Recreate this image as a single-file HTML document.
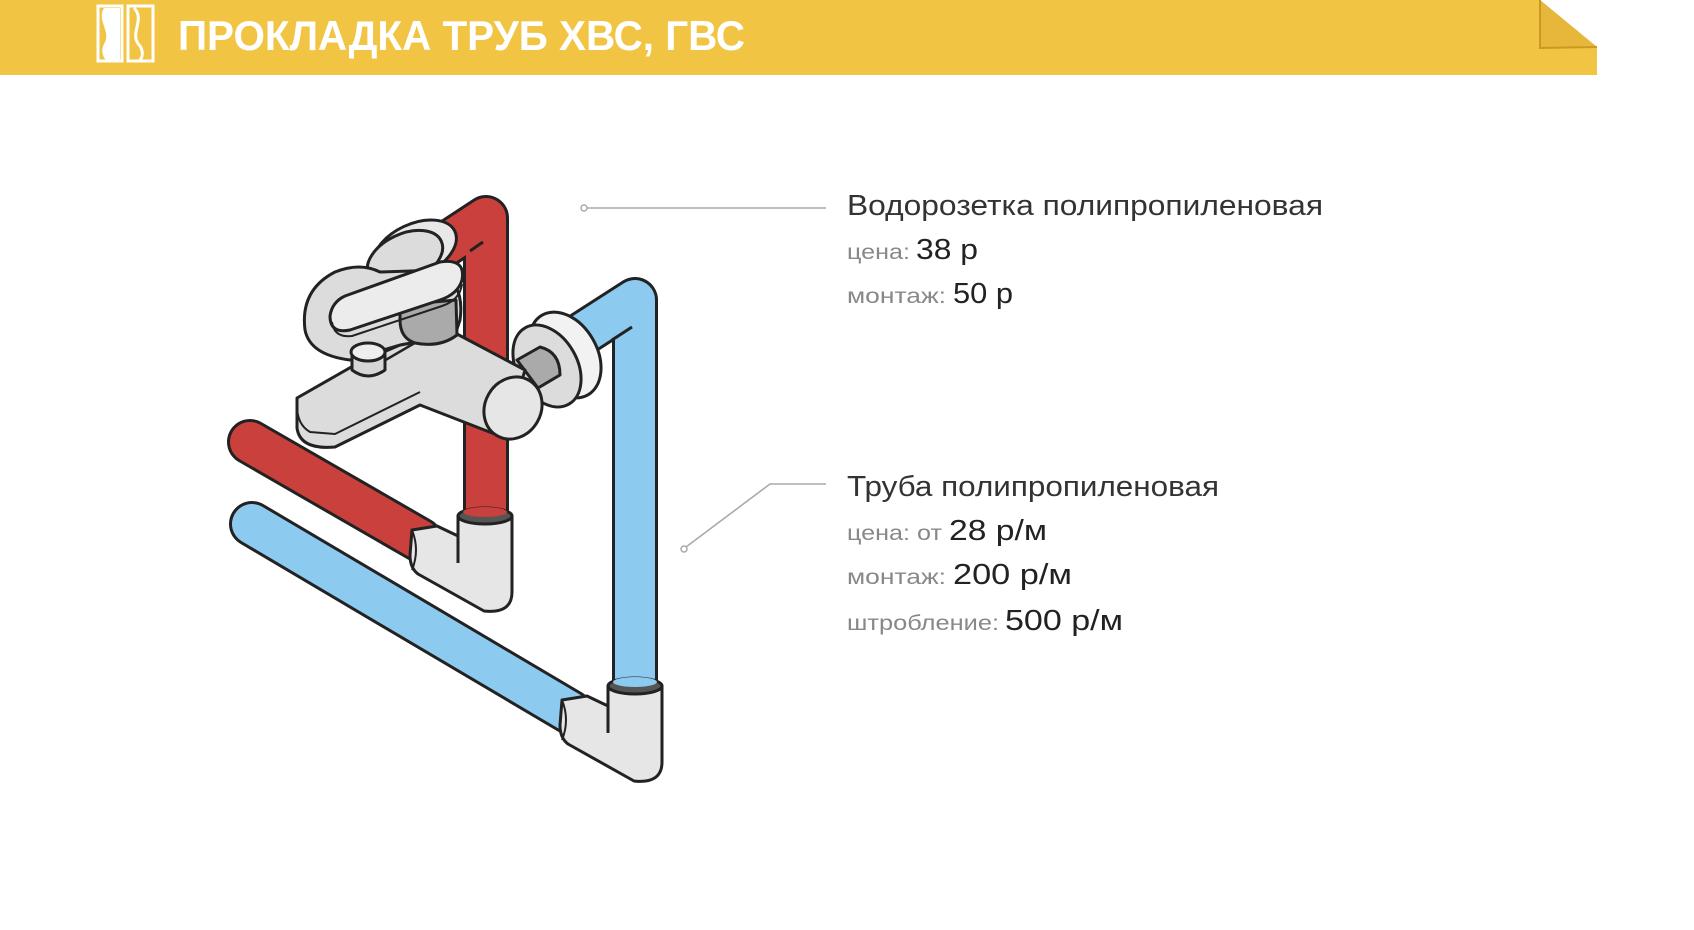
<!DOCTYPE html>
<html><head><meta charset="utf-8"><style>
html,body{margin:0;padding:0;background:#fff;}
svg{display:block;}
</style></head><body>
<svg width="1694" height="930" viewBox="0 0 1694 930" xmlns="http://www.w3.org/2000/svg" font-family="'Liberation Sans', sans-serif">
<rect x="0" y="0" width="1597" height="75" fill="#f2c443"/>
<polygon points="1540,0 1694,0 1694,75 1597,75 1597,47" fill="#fff"/>
<polygon points="1540,0 1540,48 1597,47" fill="#e6b73a"/>
<polyline points="1540,0 1540,48 1597,47" fill="none" stroke="#c99a20" stroke-width="2"/>
<rect x="98" y="6" width="24" height="55" fill="none" stroke="#fff" stroke-width="3"/>
<path d="M104 8 C96 20 112 32 104 44 C100 52 104 58 106 60 L120 60 L120 8 Z" fill="#fff"/>
<rect x="128" y="6" width="25" height="55" fill="none" stroke="#fff" stroke-width="3"/>
<path d="M134 8 C146 20 128 34 140 46 C144 52 142 58 140 60" fill="none" stroke="#fff" stroke-width="3"/>
<text x="178" y="50" font-size="42" font-weight="bold" fill="#fff" textLength="567" lengthAdjust="spacingAndGlyphs">ПРОКЛАДКА ТРУБ ХВС, ГВС</text>

<line x1="587" y1="208" x2="826" y2="208" stroke="#aaa" stroke-width="1.6"/>
<circle cx="584" cy="208" r="3" fill="#fff" stroke="#aaa" stroke-width="1.5"/>
<polyline points="686,547 770,484 826,484" fill="none" stroke="#aaa" stroke-width="1.6"/>
<circle cx="684" cy="549" r="3" fill="#fff" stroke="#aaa" stroke-width="1.5"/>

<g fill="#333">
<text x="847" y="215" font-size="29" textLength="476" lengthAdjust="spacingAndGlyphs">Водорозетка полипропиленовая</text>
<text x="847" y="259" font-size="21" fill="#888" textLength="63" lengthAdjust="spacingAndGlyphs">цена:</text>
<text x="916" y="259" font-size="29" fill="#222" textLength="62" lengthAdjust="spacingAndGlyphs">38 р</text>
<text x="847" y="303" font-size="21" fill="#888" textLength="99" lengthAdjust="spacingAndGlyphs">монтаж:</text>
<text x="953" y="303" font-size="29" fill="#222" textLength="60" lengthAdjust="spacingAndGlyphs">50 р</text>
<text x="847" y="496" font-size="29" textLength="372" lengthAdjust="spacingAndGlyphs">Труба полипропиленовая</text>
<text x="847" y="540" font-size="21" fill="#888" textLength="95" lengthAdjust="spacingAndGlyphs">цена: от</text>
<text x="949" y="540" font-size="29" fill="#222" textLength="98" lengthAdjust="spacingAndGlyphs">28 р/м</text>
<text x="847" y="584" font-size="21" fill="#888" textLength="99" lengthAdjust="spacingAndGlyphs">монтаж:</text>
<text x="953" y="584" font-size="29" fill="#222" textLength="119" lengthAdjust="spacingAndGlyphs">200 р/м</text>
<text x="847" y="630" font-size="21" fill="#888" textLength="152" lengthAdjust="spacingAndGlyphs">штробление:</text>
<text x="1005" y="630" font-size="29" fill="#222" textLength="118" lengthAdjust="spacingAndGlyphs">500 р/м</text>
</g>

<g stroke-linejoin="round" fill="none">
<path d="M425 258 L486 218 L486 520" stroke="#222" stroke-width="46"/>
<path d="M425 258 L486 218 L486 520" stroke="#c9403d" stroke-width="40"/>
<line x1="483" y1="242" x2="470" y2="251" stroke="#222" stroke-width="3"/>
<path d="M565 345 L635 300 L635 690" stroke="#222" stroke-width="46"/>
<path d="M565 345 L635 300 L635 690" stroke="#8dcaf0" stroke-width="40"/>
<line x1="632" y1="327" x2="612" y2="340" stroke="#222" stroke-width="3"/>
<line x1="250" y1="442" x2="420" y2="540" stroke="#222" stroke-width="46" stroke-linecap="round"/>
<line x1="250" y1="442" x2="420" y2="540" stroke="#c9403d" stroke-width="40" stroke-linecap="round"/>
<line x1="252" y1="524" x2="570" y2="712" stroke="#222" stroke-width="46" stroke-linecap="round"/>
<line x1="252" y1="524" x2="570" y2="712" stroke="#8dcaf0" stroke-width="40" stroke-linecap="round"/>
</g>

<g stroke="#222" stroke-width="3" stroke-linejoin="round">
<path d="M412 530 L437 526 L458 536 L458 516 L512 516 L512 592 Q512 614 484 611 L418 574 Q410 568 410 555 Z" fill="#e6e6e6"/>
<ellipse cx="485" cy="516" rx="27" ry="8" fill="#555"/>
<ellipse cx="485" cy="512" rx="22" ry="5" fill="#c9403d" stroke="none"/>
<line x1="458" y1="532" x2="458" y2="563" fill="none"/>
<path d="M412 530 Q420 550 412 570" fill="none" stroke-width="2"/>
</g>
<g transform="translate(150,170)" stroke="#222" stroke-width="3" stroke-linejoin="round">
<path d="M412 530 L437 526 L458 536 L458 516 L512 516 L512 592 Q512 614 484 611 L418 574 Q410 568 410 555 Z" fill="#e6e6e6"/>
<ellipse cx="485" cy="516" rx="27" ry="8" fill="#555"/>
<ellipse cx="485" cy="512" rx="22" ry="5" fill="#8dcaf0" stroke="none"/>
<line x1="458" y1="532" x2="458" y2="563" fill="none"/>
<path d="M412 530 Q420 550 412 570" fill="none" stroke-width="2"/>
</g>

<g stroke="#222" stroke-width="3" stroke-linejoin="round">
<ellipse cx="415" cy="250" rx="44" ry="26" transform="rotate(-25 415 250)" fill="#e8e8e8"/>
<ellipse cx="405" cy="258" rx="40" ry="24" transform="rotate(-25 405 258)" fill="#dcdcdc"/>
<ellipse cx="565" cy="355" rx="32" ry="46" transform="rotate(-30 565 355)" fill="#f2f2f2"/>
<ellipse cx="547" cy="366" rx="30" ry="44" transform="rotate(-30 547 366)" fill="#dcdcdc"/>
<path d="M517 360 L540 347 Q560 352 560 375 L538 388 Z" fill="#aaa"/>
<path d="M297 398 L360 362 L400 345 L457 334 L525 370 L505 438 L420 405 L335 447 Q300 450 297 428 Z" fill="#dcdcdc"/>
<path d="M297 402 Q296 424 310 432 L335 434 L420 392" fill="none" stroke-width="2"/>
<line x1="377" y1="365" x2="425" y2="337" stroke-width="2.5"/>
<path d="M305 330 Q300 290 335 272 Q360 262 380 272 L440 270 Q465 285 460 320 L455 335 L400 345 L350 360 Q310 355 305 330 Z" fill="#dcdcdc"/>
<path d="M400 305 L456 300 L457 335 Q440 348 415 343 Q400 338 400 320 Z" fill="#aaa"/>
<path d="M345 296 L440 262 Q466 258 462 280 Q458 294 440 300 L350 330 Q330 334 330 316 Q332 302 345 296 Z" fill="#ececec"/>
<path d="M332 322 Q334 338 352 336 L442 306 Q460 300 462 284" fill="none" stroke-width="2"/>
<path d="M352 352 L352 370 Q368 382 385 370 L385 352 Z" fill="#d6d6d6"/>
<ellipse cx="368" cy="352" rx="17" ry="9" fill="#eee"/>
<ellipse cx="513" cy="408" rx="28" ry="32" transform="rotate(30 513 408)" fill="#e6e6e6"/>
</g>
</svg>
</body></html>
